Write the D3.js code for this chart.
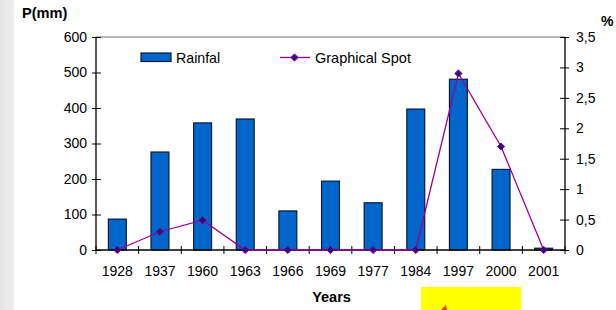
<!DOCTYPE html>
<html><head><meta charset="utf-8">
<script src="https://cdn.jsdelivr.net/npm/d3@7/dist/d3.min.js"></script>
<style>body{margin:0;background:#fff;}svg{display:block;font-family:"Liberation Sans",Arial,sans-serif;}</style>
</head><body>
<script>
const years = ["1928","1937","1960","1963","1966","1969","1977","1984","1997","2000","2001"];
const rainfall = [87, 276, 358, 369, 110, 194, 133, 397, 481, 227, 5];
const spot = [0, 0.30, 0.49, 0, 0, 0, 0, 0, 2.90, 1.70, 0];
const leftTicks = [0,100,200,300,400,500,600];
const rightTicks = [0,0.5,1,1.5,2,2.5,3,3.5];

const W=616,H=310;
const svg=d3.select("body").append("svg").attr("width",W).attr("height",H);
const defs=svg.append("defs");
const g1=defs.append("linearGradient").attr("id","strip").attr("x1",0).attr("x2",1);
g1.append("stop").attr("offset",0).attr("stop-color","#e4e4e4");
g1.append("stop").attr("offset",1).attr("stop-color","#efefef");
svg.append("rect").attr("x",0).attr("y",0).attr("width",14).attr("height",H).attr("fill","url(#strip)");

const L=96,R=565,T=37,B=250;
const x=d3.scaleBand().domain(years).range([L,R]);
const yL=d3.scaleLinear().domain([0,600]).range([B,T]);
const yR=d3.scaleLinear().domain([0,3.5]).range([B,T]);

// top gridline
svg.append("line").attr("x1",L).attr("x2",R).attr("y1",yL(600)).attr("y2",yL(600)).attr("stroke","#a0a0a0").attr("stroke-width",1.5);

// bars
const bw=x.bandwidth()*0.42;
svg.append("g").selectAll("rect").data(years).join("rect")
  .attr("x",d=>x(d)+x.bandwidth()/2-bw/2)
  .attr("y",(d,i)=>yL(rainfall[i]))
  .attr("width",bw)
  .attr("height",(d,i)=>B-yL(rainfall[i]))
  .attr("fill","#0066cc").attr("stroke","#0a1a33").attr("stroke-width",1.2);

// axes
const fs=14;
const axL=svg.append("g").attr("transform",`translate(${L},0)`)
  .call(d3.axisLeft(yL).tickValues(leftTicks).tickSize(0).tickPadding(9));
axL.selectAll(".tick").append("line").attr("x1",-4).attr("x2",5).attr("stroke","#000");
const axR=svg.append("g").attr("transform",`translate(${R},0)`)
  .call(d3.axisRight(yR).tickValues(rightTicks).tickSize(0).tickPadding(11).tickFormat(d=>String(d).replace(".",",")));
axR.selectAll(".tick").append("line").attr("x1",-5).attr("x2",4).attr("stroke","#000");
const axB=svg.append("g").attr("transform",`translate(0,${B})`)
  .call(d3.axisBottom(x).tickSize(0).tickPadding(16));
axB.selectAll(".tick").append("line")
  .attr("x1",-x.bandwidth()/2).attr("x2",-x.bandwidth()/2).attr("y1",-4).attr("y2",4).attr("stroke","#000");
axB.append("line").attr("x1",R).attr("x2",R).attr("y1",-4).attr("y2",4).attr("stroke","#000");
[axL,axR,axB].forEach(a=>{
  a.select(".domain").attr("stroke","#000").attr("stroke-width",1.3);
  a.selectAll("text").attr("font-size",fs).attr("fill","#000").attr("font-family","'Liberation Sans',Arial,sans-serif");
});
axB.select(".domain").attr("d",`M${L},0H${R}`);
axL.select(".domain").attr("d",`M0,${T}V${B}`);
axR.select(".domain").attr("d",`M0,${T}V${B}`);

// line
const line=d3.line().x((d,i)=>x(years[i])+x.bandwidth()/2).y(d=>yR(d));
svg.append("path").datum(spot).attr("d",line).attr("fill","none").attr("stroke","#990099").attr("stroke-width",1.3);
const diamond="M0,-3.6L3.6,0L0,3.6L-3.6,0Z";
svg.append("g").selectAll("path").data(spot).join("path")
  .attr("transform",(d,i)=>`translate(${x(years[i])+x.bandwidth()/2},${yR(d)})`)
  .attr("d",diamond).attr("fill","#2a0a80").attr("stroke","#800080").attr("stroke-width",1);

// legend
svg.append("rect").attr("x",141).attr("y",53).attr("width",30).attr("height",8.5).attr("fill","#0066cc").attr("stroke","#0a1a33").attr("stroke-width",1.2);
svg.append("text").attr("x",176).attr("y",62.5).attr("font-size",14.2).text("Rainfal");
svg.append("line").attr("x1",280).attr("x2",310).attr("y1",57.5).attr("y2",57.5).attr("stroke","#990099").attr("stroke-width",1.3);
svg.append("path").attr("transform","translate(294.5,57.5)").attr("d",diamond).attr("fill","#2a0a80").attr("stroke","#800080");
svg.append("text").attr("x",315).attr("y",62.5).attr("font-size",14.5).text("Graphical Spot");

// titles
svg.append("text").attr("x",22).attr("y",18).attr("font-size",14.6).attr("font-weight","bold").text("P(mm)");
svg.append("text").attr("x",601).attr("y",26).attr("font-size",14).attr("font-weight","bold").text("%");
svg.append("text").attr("x",331.5).attr("y",302).attr("font-size",14.5).attr("font-weight","bold").attr("text-anchor","middle").text("Years");

// yellow box at bottom
svg.append("rect").attr("x",421).attr("y",287).attr("width",100).attr("height",23).attr("fill","#ffff00");
svg.append("path").attr("d","M441,310 L446,305 L447,310 Z").attr("fill","#ff3300");
</script>
</body></html>
